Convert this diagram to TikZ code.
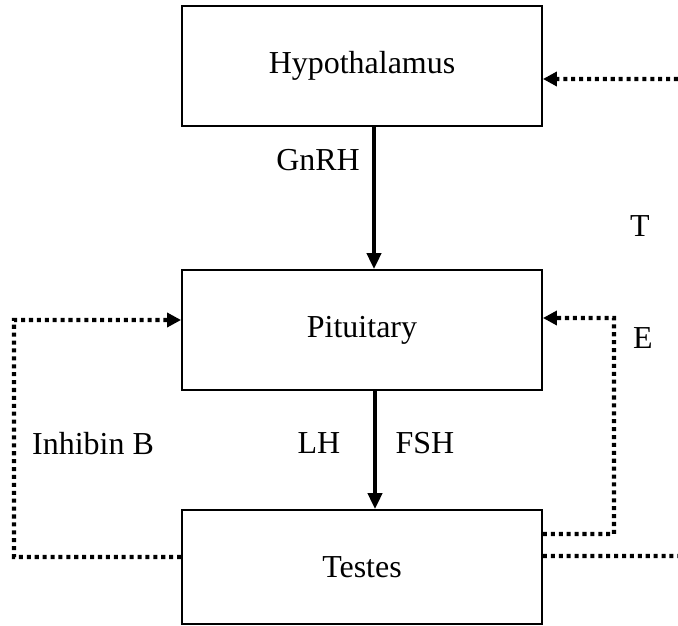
\documentclass[tikz,border=0pt]{standalone}
\usepackage{fontspec}
\setmainfont{Liberation Serif}
\usetikzlibrary{arrows.meta}

\begin{document}
\begin{tikzpicture}[x=0.02cm,y=-0.02cm,font=\fontsize{18.2}{22}\selectfont,
	box/.style={draw,line width=1.1pt,minimum width=7.2cm,minimum height=2.4cm,inner sep=0pt},
	hormone/.style={inner sep=0pt},
	solidarr/.style={line width=2pt,-{Triangle[length=9pt,width=8pt]}},
	dotline/.style={line width=2.4pt,dash pattern=on 2.3pt off 2.2pt},
	dotarr/.style={dotline,-{Triangle[length=8pt,width=8pt]}}]
	\useasboundingbox (0,0) rectangle (678,625);
	% glands
	\node[box] (H) at (362,66) {Hypothalamus};
	\node[box] (P) at (362,330) {Pituitary};
	\node[box,minimum height=2.28cm] (T) at (362,567) {Testes};
	%
	\coordinate (ibcorner) at (14,320);
	\coordinate (ecorner) at (614,318);
	\coordinate (tout) at (678,556);
	\coordinate (tin) at (678,79);
	% axis
	\draw[solidarr] ([xshift=0.24cm]H.south) -- ([xshift=0.24cm]P.north);
	\draw[solidarr] ([xshift=0.26cm]P.south) -- ([xshift=0.26cm]T.north);
	% feedback
	\draw[dotarr] ([yshift=0.2cm]T.west) -| (ibcorner) -- ([yshift=0.2cm]P.west);
	\draw[dotarr] ([yshift=0.66cm]T.east) -| (ecorner) -- ([yshift=0.24cm]P.east);
	\draw[dotline] ([yshift=0.22cm]T.east) -- (tout);
	\draw[dotarr] (tin) -- ([yshift=-0.26cm]H.east);
	%
	\node[hormone] (gnrh) at (318,160) {GnRH};
	\node[hormone] (t) at (640,226) {T};
	\node[hormone] (e) at (643,338) {E};
	\node[hormone] (inhb) at (93,444) {Inhibin B};
	\node[hormone] (lh) at (319,443) {LH};
	\node[hormone] (fsh) at (425,443) {FSH};
\end{tikzpicture}
\end{document}
